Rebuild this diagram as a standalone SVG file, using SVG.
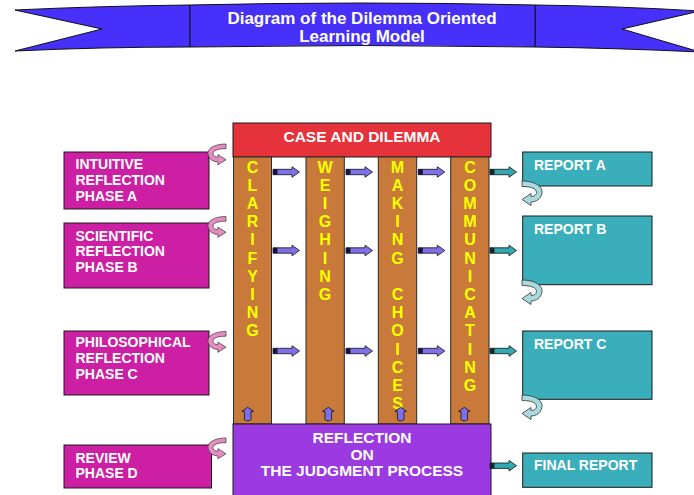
<svg xmlns="http://www.w3.org/2000/svg" xmlns:xlink="http://www.w3.org/1999/xlink" width="694" height="495" viewBox="0 0 694 495">
<style>
  .t{font-family:"Liberation Sans",Arial,sans-serif;font-weight:bold;fill:#ffffff}
  .lt{font-family:"Liberation Sans",Arial,sans-serif;font-weight:bold;fill:#ffff00;font-size:16px;text-anchor:middle}
  .mag{fill:#cc1fa3;stroke:#1a1a1a;stroke-width:1}
  .rep{fill:#3aafbb;stroke:#1a1a1a;stroke-width:1}
  .col{fill:#c97a3a;stroke:#2a2a2a;stroke-width:1}
</style>
<defs>
  <g id="arrP">
    <path d="M0,-2.7 L19,-2.7 L19,-5.3 L26.5,0 L19,5.3 L19,2.7 L0,2.7 Z" fill="#7f6fe8" stroke="#111" stroke-width="0.8"/>
    <rect x="0" y="-2.7" width="4.5" height="5.4" fill="#15153a"/>
  </g>
  <g id="arrT">
    <path d="M0,-2.7 L19,-2.7 L19,-5.3 L26.5,0 L19,5.3 L19,2.7 L0,2.7 Z" fill="#33a9b3" stroke="#111" stroke-width="0.8"/>
    <rect x="0" y="-2.7" width="4.5" height="5.4" fill="#0e2a2e"/>
  </g>
  <path id="up" d="M0,0 L5.8,4 L3.3,4 L3.3,12 Q3.3,13.5 0,13.5 Q-3.3,13.5 -3.3,12 L-3.3,4 L-5.8,4 Z" fill="#7f6fe8" stroke="#111" stroke-width="0.8"/>
  <path id="curl" d="M0,0 C14,0 21,6 20,12 C19,18 14,21 9,21 L9,24.5 L0,18.5 L9,12.5 L9,15.5 C12,15.5 14.5,14 14.5,11.5 C14.5,7.5 9,5.5 0,5.5 Z" stroke="#333" stroke-width="0.8"/>
</defs>

<g id="banner">
  <path d="M15,10 Q100,6 190,5 L190,47 Q100,47 15,51 L102,29 Z" fill="#4630fa" stroke="#111" stroke-width="1"/>
  <path d="M535,5 Q615,6 700,11 L622,29 L700,52 Q615,48 535,47 Z" fill="#4630fa" stroke="#111" stroke-width="1"/>
  <path d="M190,5 Q362,1 535,5 L535,47 Q362,44 190,47 Z" fill="#4630fa" stroke="#111" stroke-width="1"/>
  <text class="t" x="362" y="23.5" font-size="17" text-anchor="middle">Diagram of the Dilemma Oriented</text>
  <text class="t" x="362" y="41.5" font-size="17" text-anchor="middle">Learning Model</text>
</g>

<g id="case">
  <rect x="233" y="123" width="258" height="34" fill="#e6323a" stroke="#1a1a1a" stroke-width="1"/>
  <text class="t" x="362" y="142" font-size="15.5" text-anchor="middle">CASE AND DILEMMA</text>
</g>

<g id="clarifying">
  <rect class="col" x="233.5" y="157" width="38" height="267"/>
  <text class="lt" x="252.5" y="172.5">C</text><text class="lt" x="252.5" y="190.7">L</text><text class="lt" x="252.5" y="208.9">A</text><text class="lt" x="252.5" y="227.1">R</text><text class="lt" x="252.5" y="245.3">I</text><text class="lt" x="252.5" y="263.5">F</text><text class="lt" x="252.5" y="281.7">Y</text><text class="lt" x="252.5" y="299.9">I</text><text class="lt" x="252.5" y="318.1">N</text><text class="lt" x="252.5" y="336.3">G</text>
</g>
<g id="weighing">
  <rect class="col" x="306" y="157" width="38.3" height="267"/>
  <text class="lt" x="325" y="172.5">W</text><text class="lt" x="325" y="190.7">E</text><text class="lt" x="325" y="208.9">I</text><text class="lt" x="325" y="227.1">G</text><text class="lt" x="325" y="245.3">H</text><text class="lt" x="325" y="263.5">I</text><text class="lt" x="325" y="281.7">N</text><text class="lt" x="325" y="299.9">G</text>
</g>
<g id="making">
  <rect class="col" x="378.3" y="157" width="38.4" height="267"/>
  <text class="lt" x="397.5" y="172.5">M</text><text class="lt" x="397.5" y="190.7">A</text><text class="lt" x="397.5" y="208.9">K</text><text class="lt" x="397.5" y="227.1">I</text><text class="lt" x="397.5" y="245.3">N</text><text class="lt" x="397.5" y="263.5">G</text><text class="lt" x="397.5" y="299.9">C</text><text class="lt" x="397.5" y="318.1">H</text><text class="lt" x="397.5" y="336.3">O</text><text class="lt" x="397.5" y="354.5">I</text><text class="lt" x="397.5" y="372.7">C</text><text class="lt" x="397.5" y="390.9">E</text><text class="lt" x="397.5" y="409.1">S</text>
</g>
<g id="communicating">
  <rect class="col" x="450.7" y="157" width="38.3" height="267"/>
  <text class="lt" x="470" y="172.5">C</text><text class="lt" x="470" y="190.7">O</text><text class="lt" x="470" y="208.9">M</text><text class="lt" x="470" y="227.1">M</text><text class="lt" x="470" y="245.3">U</text><text class="lt" x="470" y="263.5">N</text><text class="lt" x="470" y="281.7">I</text><text class="lt" x="470" y="299.9">C</text><text class="lt" x="470" y="318.1">A</text><text class="lt" x="470" y="336.3">T</text><text class="lt" x="470" y="354.5">I</text><text class="lt" x="470" y="372.7">N</text><text class="lt" x="470" y="390.9">G</text>
</g>

<g id="reflection">
  <rect x="233" y="424" width="258" height="80" fill="#9b3ae0" stroke="#1a1a1a" stroke-width="1"/>
  <text class="t" x="362" y="443" font-size="15.5" text-anchor="middle">REFLECTION</text>
  <text class="t" x="362" y="459.5" font-size="15.5" text-anchor="middle">ON</text>
  <text class="t" x="362" y="476" font-size="15.5" text-anchor="middle">THE JUDGMENT PROCESS</text>
</g>

<g id="intuitive">
  <rect class="mag" x="64" y="152" width="145" height="57"/>
  <text class="t" font-size="14" x="75.5" y="169.3">INTUITIVE</text>
  <text class="t" font-size="14" x="75.5" y="185">REFLECTION</text>
  <text class="t" font-size="14" x="75.5" y="200.5">PHASE A</text>
</g>
<g id="scientific">
  <rect class="mag" x="64" y="223" width="145" height="65"/>
  <text class="t" font-size="14" x="75.5" y="240.5">SCIENTIFIC</text>
  <text class="t" font-size="14" x="75.5" y="256">REFLECTION</text>
  <text class="t" font-size="14" x="75.5" y="271.5">PHASE B</text>
</g>
<g id="philosophical">
  <rect class="mag" x="64" y="331" width="145" height="64"/>
  <text class="t" font-size="14" x="75.5" y="347">PHILOSOPHICAL</text>
  <text class="t" font-size="14" x="75.5" y="363">REFLECTION</text>
  <text class="t" font-size="14" x="75.5" y="378.5">PHASE C</text>
</g>
<g id="review">
  <rect class="mag" x="64" y="445" width="147.5" height="43"/>
  <text class="t" font-size="14" x="75.5" y="462.7">REVIEW</text>
  <text class="t" font-size="14" x="75.5" y="477.5">PHASE D</text>
</g>

<g id="reportA">
  <rect class="rep" x="522.7" y="152" width="129.3" height="34"/>
  <text class="t" font-size="14" x="534" y="170">REPORT A</text>
</g>
<g id="reportB">
  <rect class="rep" x="522.7" y="216" width="129.3" height="68.7"/>
  <text class="t" font-size="14" x="534" y="234">REPORT B</text>
</g>
<g id="reportC">
  <rect class="rep" x="522.7" y="331" width="129.3" height="68.3"/>
  <text class="t" font-size="14" x="534" y="348.5">REPORT C</text>
</g>
<g id="finalReport">
  <rect class="rep" x="522.7" y="453" width="129.3" height="34.3"/>
  <text class="t" font-size="14" x="534" y="470">FINAL REPORT</text>
</g>

<g id="connectors">
  <use xlink:href="#arrP" x="273" y="172"/>
  <use xlink:href="#arrP" x="346" y="172"/>
  <use xlink:href="#arrP" x="418.3" y="172"/>
  <use xlink:href="#arrT" x="490" y="172"/>
  <use xlink:href="#arrP" x="273" y="250.5"/>
  <use xlink:href="#arrP" x="346" y="250.5"/>
  <use xlink:href="#arrP" x="418.3" y="250.5"/>
  <use xlink:href="#arrT" x="490" y="250.5"/>
  <use xlink:href="#arrP" x="273" y="351"/>
  <use xlink:href="#arrP" x="346" y="351"/>
  <use xlink:href="#arrP" x="418.3" y="351"/>
  <use xlink:href="#arrT" x="490" y="351"/>
  <use xlink:href="#arrT" x="490" y="465.7"/>
  <use xlink:href="#up" x="247.7" y="407.3"/>
  <use xlink:href="#up" x="328.3" y="407.3"/>
  <use xlink:href="#up" x="400.7" y="407.3"/>
  <use xlink:href="#up" x="464.3" y="407.3"/>
  <use xlink:href="#curl" fill="#e58cc3" transform="translate(226,144) scale(-0.9,0.85)"/>
  <use xlink:href="#curl" fill="#e58cc3" transform="translate(226,216.5) scale(-0.9,0.85)"/>
  <use xlink:href="#curl" fill="#e58cc3" transform="translate(226,331.5) scale(-0.9,0.85)"/>
  <use xlink:href="#curl" fill="#e58cc3" transform="translate(226,438) scale(-0.9,0.85)"/>
  <use xlink:href="#curl" fill="#a9d9dd" transform="translate(522,181)"/>
  <use xlink:href="#curl" fill="#a9d9dd" transform="translate(522,280)"/>
  <use xlink:href="#curl" fill="#a9d9dd" transform="translate(522,395)"/>
</g>
</svg>
